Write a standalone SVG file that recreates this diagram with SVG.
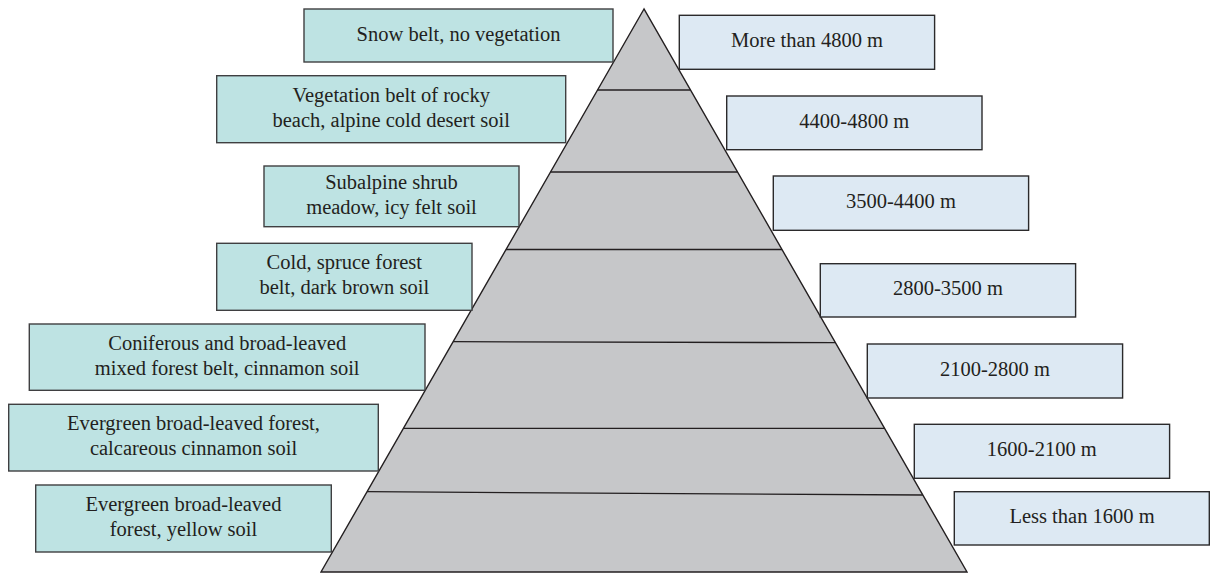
<svg xmlns="http://www.w3.org/2000/svg" width="1210" height="573" viewBox="0 0 1210 573">
<style>
.lb{fill:#bee3e3;stroke:#3f3f41;stroke-width:1.4}
.rb{fill:#dde9f3;stroke:#2b2a2b;stroke-width:1.4}
.t{font-family:"Liberation Serif","Times New Roman",serif;font-size:20.5px;fill:#231f20;text-anchor:middle}
.band{stroke:#231f20;stroke-width:1.3;fill:none}
</style>
<rect width="1210" height="573" fill="#ffffff"/>
<g id="pyramid">
<polygon points="644,9 321,572 967,572" fill="#c6c7c9" stroke="#231f20" stroke-width="1.4" stroke-linejoin="miter"/>
</g>
<g id="connectors">
<line class="band" x1="597.5" y1="90" x2="690.5" y2="90"/>
<line class="band" x1="550.5" y1="172" x2="737.5" y2="172"/>
<line class="band" x1="506" y1="249.5" x2="782" y2="249.5"/>
<line class="band" x1="453.1" y1="341.7" x2="835.4" y2="342.7"/>
<line class="band" x1="403.4" y1="428.3" x2="884.6" y2="428.3"/>
<line class="band" x1="367.1" y1="491.7" x2="922.8" y2="495"/>
</g>
<g id="left1"><rect class="lb" x="304" y="9" width="309" height="53"/><text class="t" x="458.5" y="41">Snow belt, no vegetation</text></g>
<g id="left2"><rect class="lb" x="216.7" y="75.7" width="349" height="67"/><text class="t" x="391.2" y="101.7">Vegetation belt of rocky</text><text class="t" x="391.2" y="126.7">beach, alpine cold desert soil</text></g>
<g id="left3"><rect class="lb" x="264" y="166" width="255" height="60.7"/><text class="t" x="391.5" y="188.8">Subalpine shrub</text><text class="t" x="391.5" y="213.8">meadow, icy felt soil</text></g>
<g id="left4"><rect class="lb" x="216.7" y="243.3" width="255.3" height="67"/><text class="t" x="344.3" y="269.3">Cold, spruce forest</text><text class="t" x="344.3" y="294.3">belt, dark brown soil</text></g>
<g id="left5"><rect class="lb" x="29.3" y="324" width="395.7" height="66.3"/><text class="t" x="227.2" y="349.7">Coniferous and broad-leaved</text><text class="t" x="227.2" y="374.7">mixed forest belt, cinnamon soil</text></g>
<g id="left6"><rect class="lb" x="8.7" y="404.3" width="369.6" height="66.7"/><text class="t" x="193.5" y="430.2">Evergreen broad-leaved forest,</text><text class="t" x="193.5" y="455.2">calcareous cinnamon soil</text></g>
<g id="left7"><rect class="lb" x="35.7" y="485" width="295.6" height="67"/><text class="t" x="183.5" y="511">Evergreen broad-leaved</text><text class="t" x="183.5" y="536">forest, yellow soil</text></g>
<g id="right1"><rect class="rb" x="679.3" y="15.3" width="255.3" height="54"/><text class="t" x="807" y="47.3">More than 4800 m</text></g>
<g id="right2"><rect class="rb" x="726.7" y="96" width="255.3" height="53.7"/><text class="t" x="854.3" y="127.8">4400-4800 m</text></g>
<g id="right3"><rect class="rb" x="773.3" y="176" width="255.3" height="54.3"/><text class="t" x="901" y="208.2">3500-4400 m</text></g>
<g id="right4"><rect class="rb" x="820.3" y="263.7" width="255.3" height="53.3"/><text class="t" x="948" y="295.3">2800-3500 m</text></g>
<g id="right5"><rect class="rb" x="867.3" y="344" width="255.3" height="54"/><text class="t" x="995" y="376">2100-2800 m</text></g>
<g id="right6"><rect class="rb" x="914.3" y="424.3" width="255.3" height="54"/><text class="t" x="1041.8" y="456.3">1600-2100 m</text></g>
<g id="right7"><rect class="rb" x="954.3" y="491.7" width="255" height="53.3"/><text class="t" x="1082" y="523.3">Less than 1600 m</text></g>
</svg>
